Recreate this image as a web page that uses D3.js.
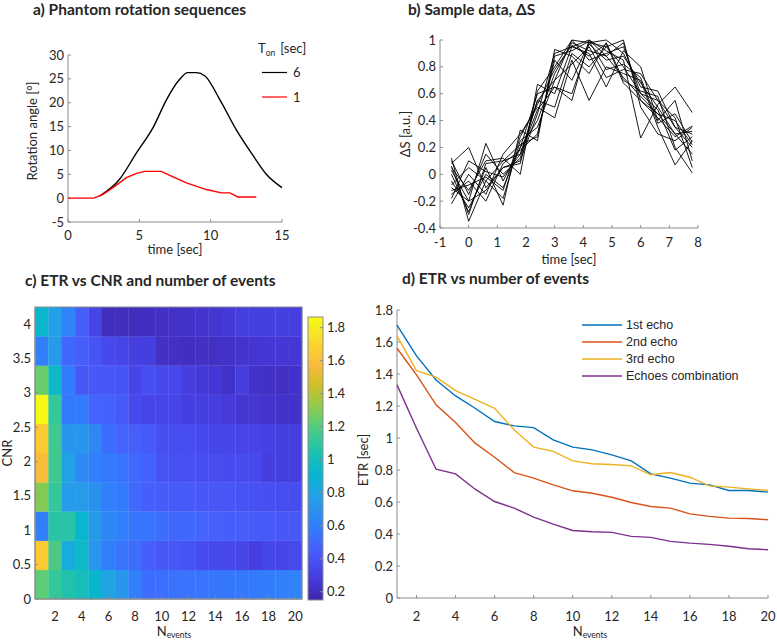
<!DOCTYPE html>
<html><head><meta charset="utf-8">
<script src="https://cdn.jsdelivr.net/npm/d3@7"></script>
<style>
body{margin:0;background:#fff;}
svg text{font-family:Lato,"Open Sans",sans-serif;fill:#262626;}
</style></head>
<body><svg id="c" width="777" height="640"></svg>
<script>
// ---------- DATA ----------
// a) phantom rotation sequences
const tOn6 = [2.2,3.6,4.8,6.0,6.9,7.8,8.4,9.0,9.6,10.65,11.8,13.0,13.9,15.0];
const rot6 = [0.4,3.9,9.5,15.0,20.6,24.8,26.3,26.3,25.6,20.6,14.3,8.8,5.0,2.2];
const tOn1 = [0,1.8,2.45,3.15,4.1,4.8,5.4,6.55,6.9,8.3,9.7,10.75,11.35,11.9,13.2];
const rot1 = [0,0,0.8,2.2,4.3,5.2,5.6,5.6,5.1,3.2,1.8,1.1,1.1,0.25,0.25];
const legendA = ["6","1"];
// b) sample data
const sampleT = [-0.6,0,0.6,1.2,1.8,2.4,3.0,3.6,4.2,4.8,5.4,6.0,6.6,7.2,7.8];
const sample1 = [0.12,-0.35,-0.05,0.10,0.15,0.55,0.70,1.00,0.98,0.95,0.80,0.60,0.55,0.35,0.20];
const sample2 = [0.08,0.20,-0.10,0.05,0.10,0.45,0.90,0.95,1.00,0.88,0.98,0.55,0.45,0.30,0.32];
const sample3 = [-0.10,-0.20,0.23,-0.05,0.20,0.60,0.65,0.55,1.00,0.92,0.85,0.27,0.52,0.65,0.46];
const sample4 = [-0.22,0.00,-0.15,0.15,0.30,0.50,0.42,0.85,0.55,0.80,0.75,0.70,0.35,0.07,0.25];
const sample5 = [0.00,-0.28,0.05,-0.23,0.33,0.25,0.93,0.88,0.75,0.98,0.70,0.62,0.58,0.20,0.01];
const sample6 = [0.05,-0.12,0.10,0.12,0.00,0.67,0.60,0.95,0.90,0.65,0.92,0.80,0.40,0.55,0.10];
const sample7 = [-0.05,-0.25,0.00,-0.10,0.20,0.40,0.75,0.98,0.92,0.88,0.72,0.58,0.45,0.40,0.22];
const sample8 = [-0.15,-0.05,-0.20,0.08,0.18,0.30,0.85,0.70,0.98,1.00,0.90,0.65,0.62,0.35,0.30];
const sample9 = [0.10,-0.15,0.15,0.00,0.12,0.55,0.50,0.90,0.80,0.95,1.00,0.50,0.30,0.25,0.35];
const sample10 = [-0.08,0.05,-0.05,-0.18,0.25,0.35,0.70,0.82,0.95,0.72,0.78,0.75,0.55,0.42,0.05];
const sample11 = [0.03,-0.20,-0.12,0.05,0.08,0.62,0.80,1.00,0.85,0.90,0.95,0.60,0.48,0.18,0.28];
const sample12 = [-0.18,0.10,0.02,-0.02,0.15,0.48,0.65,0.60,0.97,0.85,0.88,0.68,0.50,0.30,0.15];
const sample13 = [0.06,-0.30,0.08,0.10,0.22,0.28,0.88,0.92,0.99,0.78,0.82,0.72,0.38,0.45,0.24];
const sample14 = [-0.12,-0.08,-0.02,-0.12,0.28,0.52,0.78,0.96,0.88,0.97,0.68,0.55,0.42,0.28,0.36];
// c) ETR vs CNR and N events (rows: CNR low -> high, cols: N = 1..20)
const nEvents = d3.range(1,21);
const cnr = [0.2125,0.6375,1.0625,1.4875,1.9125,2.3375,2.7625,3.1875,3.6125,4.0375];
const etr0 = [1.22,1.12,1.05,1.00,0.92,0.80,0.72,0.60,0.52,0.53,0.54,0.55,0.55,0.56,0.57,0.57,0.58,0.59,0.60,0.62];
const etr1 = [1.65,1.18,0.85,0.95,0.72,0.60,0.55,0.52,0.45,0.42,0.42,0.40,0.36,0.35,0.35,0.34,0.30,0.34,0.33,0.35];
const etr2 = [0.60,1.08,1.08,0.92,0.75,0.65,0.60,0.56,0.55,0.52,0.50,0.50,0.48,0.46,0.45,0.45,0.44,0.43,0.42,0.42];
const etr3 = [1.30,1.12,0.75,0.75,0.70,0.60,0.58,0.50,0.45,0.44,0.44,0.43,0.42,0.41,0.41,0.40,0.39,0.38,0.37,0.37];
const etr4 = [1.58,1.15,0.78,0.66,0.60,0.58,0.55,0.50,0.47,0.40,0.39,0.39,0.38,0.37,0.36,0.36,0.35,0.30,0.30,0.30];
const etr5 = [1.65,1.15,0.72,0.72,0.65,0.52,0.48,0.45,0.43,0.38,0.37,0.37,0.35,0.34,0.34,0.33,0.32,0.31,0.30,0.30];
const etr6 = [1.85,1.12,0.58,0.58,0.48,0.47,0.43,0.35,0.33,0.33,0.33,0.30,0.30,0.30,0.28,0.25,0.25,0.24,0.23,0.23];
const etr7 = [1.25,0.95,0.58,0.42,0.42,0.42,0.40,0.33,0.38,0.35,0.35,0.30,0.27,0.26,0.23,0.30,0.23,0.22,0.22,0.23];
const etr8 = [0.60,0.75,0.50,0.45,0.40,0.35,0.33,0.30,0.30,0.22,0.22,0.21,0.22,0.22,0.23,0.24,0.25,0.26,0.26,0.26];
const etr9 = [0.92,0.78,0.62,0.45,0.33,0.20,0.20,0.20,0.21,0.22,0.22,0.23,0.24,0.25,0.27,0.30,0.30,0.30,0.30,0.30];
const etrGrid = [etr0,etr1,etr2,etr3,etr4,etr5,etr6,etr7,etr8,etr9];
const cbTicks = [0.2,0.4,0.6,0.8,1,1.2,1.4,1.6,1.8];
// d) ETR vs number of events
const echo1 = [1.706,1.513,1.363,1.263,1.186,1.103,1.076,1.065,0.988,0.943,0.926,0.895,0.857,0.776,0.749,0.718,0.707,0.672,0.672,0.662];
const echo2 = [1.561,1.394,1.207,1.097,0.968,0.880,0.784,0.749,0.707,0.670,0.655,0.630,0.597,0.572,0.562,0.526,0.510,0.499,0.497,0.489];
const echo3 = [1.638,1.421,1.380,1.296,1.242,1.186,1.051,0.943,0.916,0.857,0.839,0.834,0.826,0.770,0.784,0.755,0.701,0.693,0.682,0.672];
const echoComb = [1.332,1.061,0.805,0.776,0.680,0.603,0.562,0.506,0.462,0.422,0.414,0.410,0.385,0.379,0.354,0.343,0.335,0.323,0.308,0.302];
const legendD = ["1st echo","2nd echo","3rd echo","Echoes combination"];

// parula colormap (MATLAB) anchor colours
const parulaStops = [[0.2422,0.1504,0.6603],[0.2706,0.2147,0.8364],[0.2813,0.3006,0.9414],[0.2699,0.3892,0.9906],
 [0.1963,0.4847,0.9892],[0.1687,0.5703,0.9359],[0.1248,0.6459,0.8883],[0.0297,0.7082,0.8163],[0.0964,0.7500,0.7120],
 [0.2161,0.7843,0.5923],[0.3909,0.8029,0.4354],[0.6174,0.7876,0.2612],[0.8203,0.7498,0.1535],[0.9728,0.7298,0.2394],
 [0.9892,0.8136,0.1885],[0.9597,0.9135,0.1423],[0.9769,0.9839,0.0805]];
const parulaPos = [0,4,8,12,16,20,24,28,32,36,40,44,48,52,56,60,63].map(i=>i/63);
const parulaCols = parulaStops.map(c=>d3.rgb(c[0]*255,c[1]*255,c[2]*255).formatHex());
const parula = d3.scaleLinear().domain(parulaPos).range(parulaCols).interpolate(d3.interpolateRgb).clamp(true);

// ---------- DRAW ----------
const svg = d3.select("#c");
const AX = "#8c8c8c", FS = 13;
const fmt = v => String(+v.toFixed(2));

function leftAxis(g, y, x0, ticks, len, r0, r1){
  g.append("line").attr("x1",x0).attr("x2",x0).attr("y1",r0).attr("y2",r1).attr("stroke",AX);
  ticks.forEach(t=>{
    g.append("line").attr("x1",x0).attr("x2",x0+len).attr("y1",y(t)).attr("y2",y(t)).attr("stroke",AX);
    g.append("text").attr("x",x0-4).attr("y",y(t)).attr("dy","0.35em").attr("text-anchor","end")
      .attr("font-size",FS).text(fmt(t));
  });
}
function bottomAxis(g, x, y0, ticks, len, r0, r1, labY){
  g.append("line").attr("x1",r0).attr("x2",r1).attr("y1",y0).attr("y2",y0).attr("stroke",AX);
  ticks.forEach(t=>{
    g.append("line").attr("x1",x(t)).attr("x2",x(t)).attr("y1",y0).attr("y2",y0-len).attr("stroke",AX);
    g.append("text").attr("x",x(t)).attr("y",labY).attr("text-anchor","middle").attr("font-size",FS).text(fmt(t));
  });
}
function title(txt,x,y){
  svg.append("text").attr("x",x).attr("y",y).attr("font-weight","bold").attr("font-size",15.5).text(txt);
}

// ----- panel a -----
{
  const g = svg.append("g");
  const x = d3.scaleLinear([0,15],[68,282]);
  const y = d3.scaleLinear([-5,30],[222,55]);
  title("a) Phantom rotation sequences",33,15);
  leftAxis(g,y,68,d3.range(-5,31,5),3,55,222);
  bottomAxis(g,x,222,[0,5,10,15],3,68,282,240);
  const smooth = d3.line().x(d=>x(d[0])).y(d=>y(d[1])).curve(d3.curveMonotoneX);
  const line = d3.line().x(d=>x(d[0])).y(d=>y(d[1]));
  g.append("path").attr("d",smooth(d3.zip(tOn6,rot6))).attr("fill","none").attr("stroke","#000").attr("stroke-width",1.4);
  g.append("path").attr("d",line(d3.zip(tOn1,rot1))).attr("fill","none").attr("stroke","#ff0000").attr("stroke-width",1.4);
  g.append("text").attr("x",175).attr("y",254).attr("text-anchor","middle").attr("font-size",FS).text("time [sec]");
  g.append("text").attr("transform","translate(37,131) rotate(-90)").attr("text-anchor","middle").attr("font-size",FS).text("Rotation angle [°]");
  const lt = g.append("text").attr("x",258).attr("y",53).attr("font-size",FS);
  lt.append("tspan").text("T");
  lt.append("tspan").attr("font-size",8.5).attr("dy",3).text("on");
  lt.append("tspan").attr("dy",-3).attr("dx",5).text("[sec]");
  [["#000",72.5],["#ff0000",97]].forEach((s,i)=>{
    g.append("line").attr("x1",262).attr("x2",287).attr("y1",s[1]).attr("y2",s[1]).attr("stroke",s[0]).attr("stroke-width",1.2);
    g.append("text").attr("x",293).attr("y",s[1]).attr("dy","0.35em").attr("font-size",FS).text(legendA[i]);
  });
}
// ----- panel b -----
{
  const g = svg.append("g");
  const x = d3.scaleLinear([-1,8],[440,698]);
  const y = d3.scaleLinear([-0.4,1],[228,40]);
  title("b) Sample data, ΔS",408,15);
  const series = [sample1,sample2,sample3,sample4,sample5,sample6,sample7,sample8,sample9,sample10,sample11,sample12,sample13,sample14];
  const line = d3.line().x((d,i)=>x(sampleT[i])).y(d=>y(d));
  series.forEach(s=>g.append("path").attr("d",line(s)).attr("fill","none").attr("stroke","#000").attr("stroke-width",0.9));
  leftAxis(g,y,440,[-0.4,-0.2,0,0.2,0.4,0.6,0.8,1],3,40,228);
  bottomAxis(g,x,228,d3.range(-1,9),3,440,698,247);
  g.append("text").attr("x",569).attr("y",264).attr("text-anchor","middle").attr("font-size",FS).text("time [sec]");
  g.append("text").attr("transform","translate(410,134) rotate(-90)").attr("text-anchor","middle").attr("font-size",FS).text("ΔS [a.u.]");
}
// ----- panel c -----
{
  const g = svg.append("g");
  const x = d3.scaleLinear([0.5,20.5],[35,302]);
  const y = d3.scaleLinear([0,4.25],[599,307]);
  const half = (cnr[1]-cnr[0])/2;
  title("c) ETR vs CNR and number of events",25,286);
  etrGrid.forEach((row,r)=>row.forEach((v,c)=>{
    g.append("rect").attr("x",x(nEvents[c]-0.5)).attr("y",y(cnr[r]+half))
     .attr("width",x(nEvents[c]+0.5)-x(nEvents[c]-0.5)+0.3).attr("height",y(cnr[r]-half)-y(cnr[r]+half)+0.3)
     .attr("fill",parula((v-0.15)/1.715));
  }));
  g.append("rect").attr("x",35).attr("y",307).attr("width",267).attr("height",292).attr("fill","none").attr("stroke",AX);
  leftAxis(g,y,35,d3.range(0,4.01,0.5),3,307,599);
  bottomAxis(g,x,599,d3.range(2,21,2),3,35,302,621);
  const xl = g.append("text").attr("x",174).attr("y",636).attr("text-anchor","middle").attr("font-size",FS);
  xl.append("tspan").text("N");
  xl.append("tspan").attr("font-size",8.5).attr("dy",2).text("events");
  g.append("text").attr("transform","translate(12,453) rotate(-90)").attr("text-anchor","middle").attr("font-size",FS).text("CNR");
  // colorbar
  const cy = d3.scaleLinear([0.15,1.865],[600,317]);
  const defs = svg.append("defs");
  const grad = defs.append("linearGradient").attr("id","pg").attr("x1",0).attr("x2",0).attr("y1",1).attr("y2",0);
  parulaPos.forEach((p,i)=>grad.append("stop").attr("offset",p).attr("stop-color",parulaCols[i]));
  g.append("rect").attr("x",308).attr("y",317).attr("width",15).attr("height",283).attr("fill","url(#pg)").attr("stroke",AX);
  cbTicks.forEach(t=>{
    g.append("line").attr("x1",323).attr("x2",320).attr("y1",cy(t)).attr("y2",cy(t)).attr("stroke",AX);
    g.append("text").attr("x",327).attr("y",cy(t)).attr("dy","0.35em").attr("font-size",FS).text(fmt(t));
  });
  g.append("text").attr("transform","translate(368,460) rotate(-90)").attr("text-anchor","middle").attr("font-size",FS).text("ETR [sec]");
}
// ----- panel d -----
{
  const g = svg.append("g");
  const x = d3.scaleLinear([1,20],[397,768]);
  const y = d3.scaleLinear([0,1.8],[598,310]);
  title("d) ETR vs number of events",402,284);
  leftAxis(g,y,397,d3.range(0,1.81,0.2),3,310,598);
  bottomAxis(g,x,598,d3.range(2,21,2),3,397,768,621);
  const cols = ["#0072bd","#d95319","#edb120","#7e2f8e"];
  const line = d3.line().x((d,i)=>x(nEvents[i])).y(d=>y(d));
  [echo1,echo2,echo3,echoComb].forEach((s,i)=>g.append("path").attr("d",line(s)).attr("fill","none").attr("stroke",cols[i]).attr("stroke-width",1.4));
  legendD.forEach((t,i)=>{
    const yy = 325 + i*17;
    g.append("line").attr("x1",582).attr("x2",622).attr("y1",yy).attr("y2",yy).attr("stroke",cols[i]).attr("stroke-width",1.4);
    g.append("text").attr("x",626).attr("y",yy).attr("dy","0.35em").attr("font-size",12.5)
      .style("font-family","'Liberation Sans',Arial,sans-serif").text(t);
  });
  const xl = g.append("text").attr("x",590).attr("y",636).attr("text-anchor","middle").attr("font-size",FS);
  xl.append("tspan").text("N");
  xl.append("tspan").attr("font-size",8.5).attr("dy",2).text("events");
}
</script></body></html>
